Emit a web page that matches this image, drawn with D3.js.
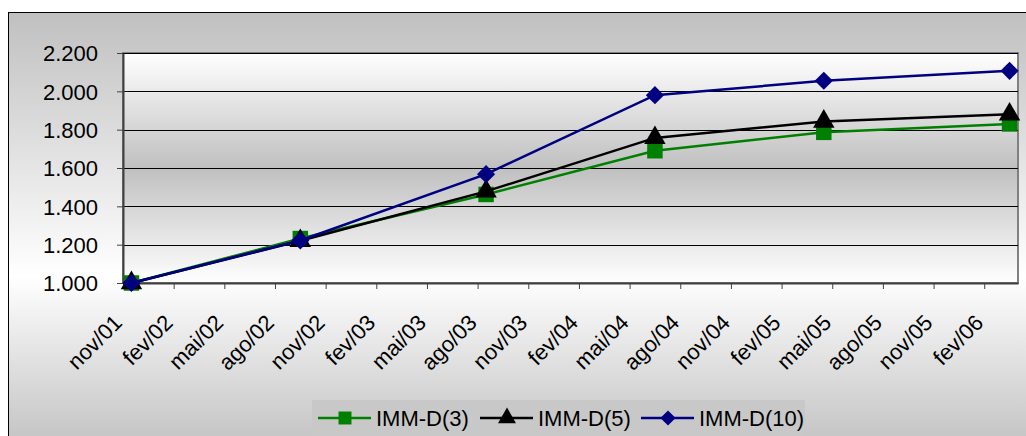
<!DOCTYPE html>
<html><head><meta charset="utf-8">
<script src="https://cdn.jsdelivr.net/npm/d3@7"></script>
<style>body{margin:0;background:#fff;}svg{display:block;font-family:"Liberation Sans",Arial,sans-serif;}</style>
</head><body>
<svg id="c" width="1026" height="436"></svg>
<script>
const dates = ["2001-11","2002-09","2003-08","2004-06","2005-04","2006-03"];
const imm3  = [1.000, 1.232, 1.462, 1.690, 1.786, 1.830];
const imm5  = [1.000, 1.220, 1.478, 1.757, 1.843, 1.880];
const imm10 = [1.000, 1.222, 1.568, 1.980, 2.055, 2.107];
const seriesNames = ["IMM-D(3)","IMM-D(5)","IMM-D(10)"];
const xLabels = ["nov/01","fev/02","mai/02","ago/02","nov/02","fev/03","mai/03","ago/03","nov/03","fev/04","mai/04","ago/04","nov/04","fev/05","mai/05","ago/05","nov/05","fev/06"];
const yTicks = [1.0,1.2,1.4,1.6,1.8,2.0,2.2];

const svg = d3.select("#c");
const parse = d3.timeParse("%Y-%m");
const start = parse("2001-11");
const mIdx = s => d3.timeMonth.count(start, parse(s));

const L=123, R=1018, T=53, B=283;
const FS = 22;
const x = d3.scaleLinear().domain([0,53]).range([L,R]);
const y = d3.scaleLinear().domain([1.0,2.2]).range([B,T]);

const defs = svg.append("defs");
const g1 = defs.append("linearGradient").attr("id","outer").attr("x1",0).attr("y1",0).attr("x2",0).attr("y2",1);
[[0,"#c0c0c0"],[0.6,"#ffffff"],[1,"#c0c0c0"]].forEach(s=>g1.append("stop").attr("offset",s[0]).attr("stop-color",s[1]));
const g2 = defs.append("linearGradient").attr("id","plot").attr("x1",0).attr("y1",0).attr("x2",0).attr("y2",1);
[[0,"#ffffff"],[0.5,"#c0c0c0"],[1,"#ffffff"]].forEach(s=>g2.append("stop").attr("offset",s[0]).attr("stop-color",s[1]));

svg.append("rect").attr("x",8.5).attr("y",12.5).attr("width",1030).attr("height",440)
  .attr("fill","url(#outer)").attr("stroke","#000").attr("stroke-width",1);

svg.append("rect").attr("x",L).attr("y",T).attr("width",R-L).attr("height",B-T)
  .attr("fill","url(#plot)").attr("stroke","#808080").attr("stroke-width",2);

// gridlines
svg.append("g").selectAll("line").data(yTicks.slice(1)).join("line")
  .attr("x1",L).attr("x2",R).attr("y1",d=>Math.round(y(d))+0.5).attr("y2",d=>Math.round(y(d))+0.5)
  .attr("stroke","#000").attr("stroke-width",1);

// y axis
const ya = d3.axisLeft(y).tickValues(yTicks).tickSize(6).tickSizeOuter(0)
  .tickFormat(d=>d3.format(".3f")(d));
const yg = svg.append("g").attr("transform",`translate(${L},0)`).call(ya);
yg.select(".domain").attr("stroke","#404040").attr("stroke-width",2);
yg.selectAll(".tick line").attr("stroke","#404040");
yg.selectAll(".tick text").attr("x",-25).attr("dy","0.36em").attr("font-size",FS)
  .attr("fill","#000").attr("font-family","'Liberation Sans',Arial,sans-serif");

// x axis
const xa = d3.axisBottom(x).tickValues(d3.range(0,52,3)).tickSize(6).tickSizeOuter(0).tickFormat("");
const xg = svg.append("g").attr("transform",`translate(0,${B})`).call(xa);
xg.select(".domain").attr("stroke","#404040").attr("stroke-width",2);
xg.selectAll(".tick line").attr("stroke","#404040");

svg.append("g").selectAll("text").data(xLabels).join("text")
  .attr("transform",(d,i)=>`translate(${x(i*3+0.5)-8},${B+41}) rotate(-45)`)
  .attr("text-anchor","end").attr("font-size",FS).attr("fill","#000").text(d=>d);

const colors = ["#008000","#000000","#000080"];
const vals = [imm3, imm5, imm10];
const shapes = [d3.symbolSquare, d3.symbolTriangle, d3.symbolSquare];
const rots = [0, 0, 45];
const sizes = [240, 200, 165];

const line = d3.line().x((d,i)=>x(mIdx(dates[i])+0.5)).y(d=>y(d));
vals.forEach((v,k)=>{
  const g = svg.append("g");
  g.append("path").datum(v).attr("d",line).attr("fill","none").attr("stroke",colors[k]).attr("stroke-width",2.5);
  g.selectAll("path.m").data(v).join("path").attr("class","m")
    .attr("transform",(d,i)=>`translate(${x(mIdx(dates[i])+0.5)},${y(d)}) rotate(${rots[k]})`)
    .attr("d",d3.symbol().type(shapes[k]).size(sizes[k])).attr("fill",colors[k]);
});

// legend
const lg = svg.append("g");
lg.append("rect").attr("x",312).attr("y",400).attr("width",493).attr("height",40).attr("fill","#c8c8c8");
const lx = [318, 480, 641];
seriesNames.forEach((n,k)=>{
  const gg = lg.append("g").attr("transform",`translate(${lx[k]},418)`);
  gg.append("line").attr("x1",0).attr("x2",53).attr("stroke",colors[k]).attr("stroke-width",2.5);
  gg.append("path").attr("transform",`translate(27,0) rotate(${rots[k]})`).attr("d",d3.symbol().type(shapes[k]).size(sizes[k]*0.7)).attr("fill",colors[k]);
  gg.append("text").attr("x",58).attr("y",8).attr("font-size",FS).attr("fill","#000").text(n);
});
</script>
</body></html>
